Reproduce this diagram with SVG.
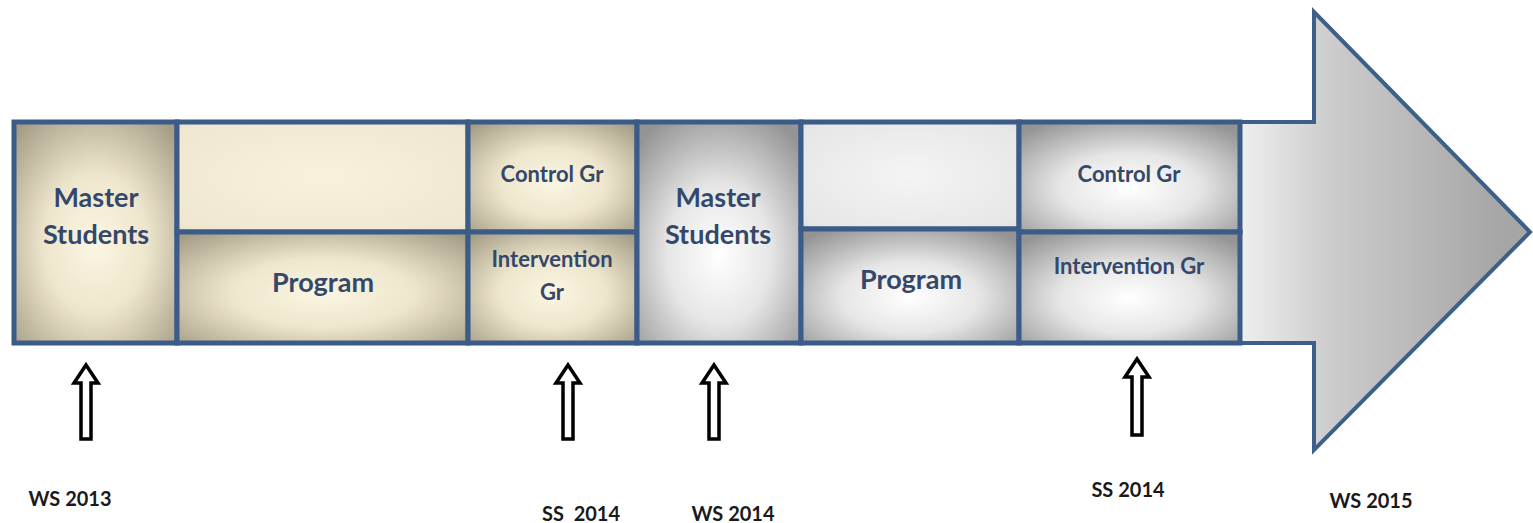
<svg xmlns="http://www.w3.org/2000/svg" width="1533" height="523" viewBox="0 0 1533 523">
<defs>
<radialGradient id="beige" cx="0.5" cy="0.55" r="0.7">
<stop offset="0" stop-color="#fbf6e4"/>
<stop offset="0.45" stop-color="#eee6cc"/>
<stop offset="1" stop-color="#a59c86"/>
</radialGradient>
<radialGradient id="beigeLight" cx="0.5" cy="0.5" r="0.8">
<stop offset="0" stop-color="#f8f1dc"/>
<stop offset="0.8" stop-color="#efe7d0"/>
<stop offset="1" stop-color="#d9d1bb"/>
</radialGradient>
<radialGradient id="gray" cx="0.5" cy="0.6" r="0.7">
<stop offset="0" stop-color="#ffffff"/>
<stop offset="0.45" stop-color="#e6e6e6"/>
<stop offset="1" stop-color="#949494"/>
</radialGradient>
<radialGradient id="grayLight" cx="0.5" cy="0.5" r="0.8">
<stop offset="0" stop-color="#f4f4f4"/>
<stop offset="0.8" stop-color="#e6e6e6"/>
<stop offset="1" stop-color="#cfcfcf"/>
</radialGradient>
<linearGradient id="head" gradientUnits="userSpaceOnUse" x1="1240" y1="0" x2="1500" y2="0">
<stop offset="0" stop-color="#efefef"/>
<stop offset="0.35" stop-color="#cccccc"/>
<stop offset="1" stop-color="#a6a6a6"/>
</linearGradient>
<style>
.box{stroke:#3b5b88;stroke-width:5}
.lbl{font-family:Lato,"Liberation Sans",sans-serif;font-weight:bold;fill:#34486a;text-anchor:middle}
.big{font-size:27px}
.sm{font-size:22px}
.date{font-family:Lato,"Liberation Sans",sans-serif;font-weight:bold;font-size:20px;fill:#1a1a1a;text-anchor:middle}
.up{fill:#ffffff;stroke:#000;stroke-width:3.5;stroke-linejoin:miter}
</style>
</defs>
<g id="timeline-arrow">
<polygon points="14,122 1314,122 1314,12 1530,232 1314,450 1314,343 14,343" fill="url(#head)" stroke="#3e5f8a" stroke-width="4"/>
</g>
<g id="n1"><rect class="box" x="14" y="122" width="163" height="221" fill="url(#beige)"/>
<text class="lbl big" x="96" y="207">Master</text><text class="lbl big" x="96" y="244">Students</text></g>
<g id="n2a"><rect class="box" x="177" y="122" width="291" height="110" fill="url(#beigeLight)"/></g>
<g id="n2b"><rect class="box" x="177" y="232" width="291" height="111" fill="url(#beige)"/>
<text class="lbl big" x="323" y="292">Program</text></g>
<g id="n3a"><rect class="box" x="468" y="122" width="169" height="110" fill="url(#beige)"/>
<text class="lbl sm" x="552" y="182">Control Gr</text></g>
<g id="n3b"><rect class="box" x="468" y="232" width="169" height="111" fill="url(#beige)"/>
<text class="lbl sm" x="552" y="267">Intervention</text><text class="lbl sm" x="552" y="300">Gr</text></g>
<g id="n4"><rect class="box" x="637" y="122" width="164" height="221" fill="url(#gray)"/>
<text class="lbl big" x="718" y="207">Master</text><text class="lbl big" x="718" y="244">Students</text></g>
<g id="n5a"><rect class="box" x="801" y="122" width="218" height="107" fill="url(#grayLight)"/></g>
<g id="n5b"><rect class="box" x="801" y="229" width="218" height="114" fill="url(#gray)"/>
<text class="lbl big" x="911" y="289">Program</text></g>
<g id="n6a"><rect class="box" x="1019" y="122" width="221" height="110" fill="url(#gray)"/>
<text class="lbl sm" x="1129" y="182">Control Gr</text></g>
<g id="n6b"><rect class="box" x="1019" y="232" width="221" height="111" fill="url(#gray)"/>
<text class="lbl sm" x="1129" y="274">Intervention Gr</text></g>
<g id="connectors">
<polygon class="up" points="86,365 98,383 91,383 91,439 81,439 81,383 74,383"/>
<polygon class="up" points="568,365 580,383 573,383 573,439 563,439 563,383 556,383"/>
<polygon class="up" points="714,365 726,383 719,383 719,439 709,439 709,383 702,383"/>
<polygon class="up" points="1137,359 1149,377 1142,377 1142,435 1132,435 1132,377 1125,377"/>
</g>
<g id="labels">
<text class="date" x="70" y="506">WS 2013</text>
<text class="date" x="581" y="521" xml:space="preserve">SS  2014</text>
<text class="date" x="733" y="521">WS 2014</text>
<text class="date" x="1128" y="497">SS 2014</text>
<text class="date" x="1371" y="508">WS 2015</text>
</g>
</svg>
